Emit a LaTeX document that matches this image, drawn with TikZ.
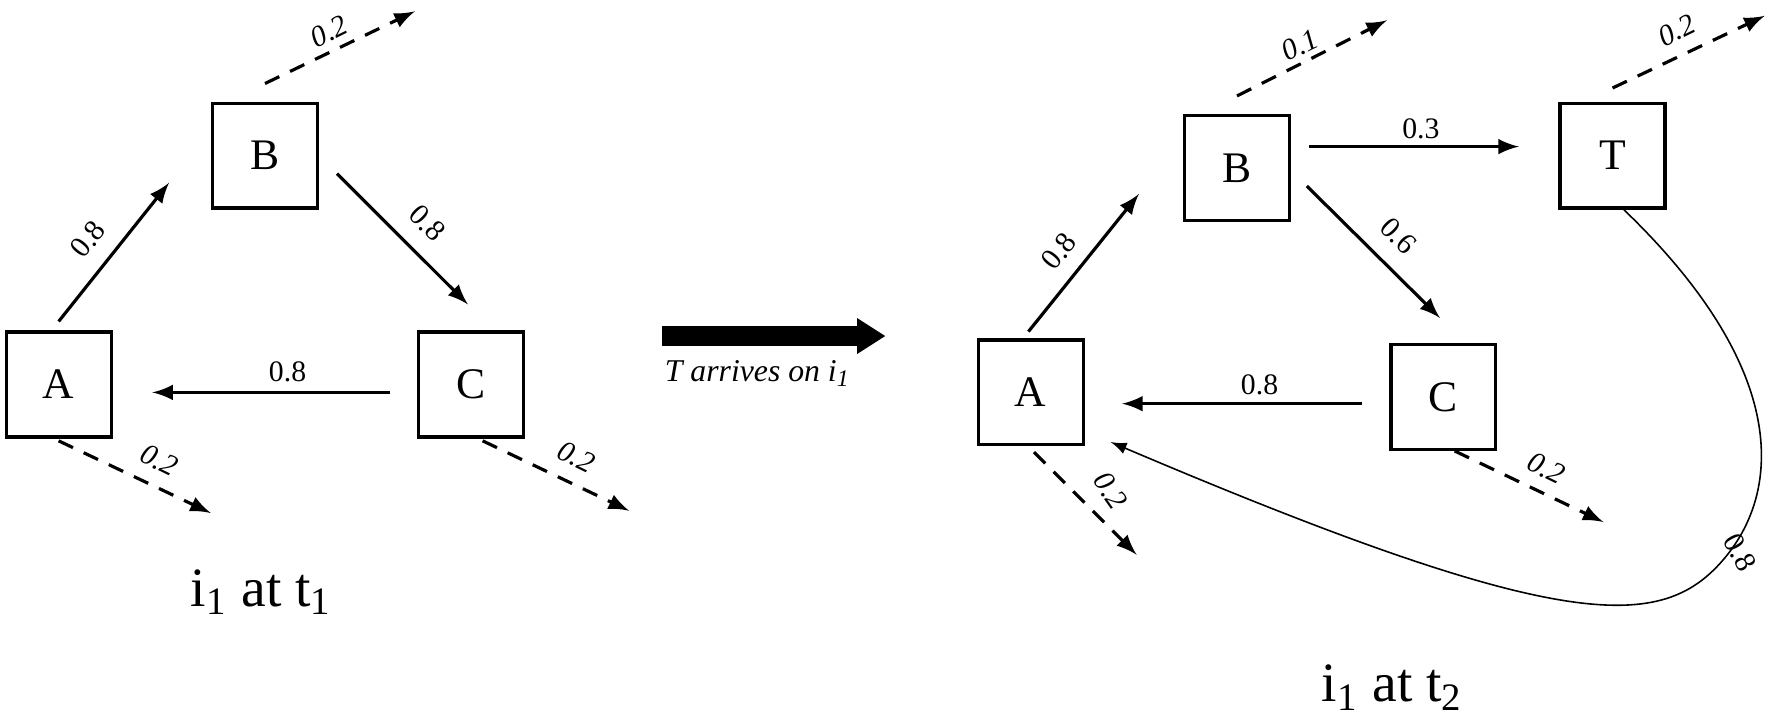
\documentclass[tikz,border=0pt]{standalone}
\usepackage{fontspec}
\setmainfont{Liberation Serif}
\usetikzlibrary{positioning}
\begin{document}
\begin{tikzpicture}[x=0.01cm, y=-0.01cm,
    box/.style={rectangle, draw, thick, minimum width=0.93cm, minimum height=0.93cm, font=\fontsize{11}{13}\selectfont},
    arrow/.style={->, >=latex, thick},
    leave/.style={->, >=latex, thick, dashed, dash pattern=on 4pt off 3pt},
    num/.style={font=\fontsize{7.5}{8}\selectfont, inner sep=1pt},
    inum/.style={num, font=\fontsize{7.5}{8}\selectfont\itshape},
    caption/.style={font=\fontsize{14}{16}\selectfont}
]
\useasboundingbox (0,0) rectangle (1567,637.6);

% Instant t1
\node[box] (A1) at (52,341) {A};
\node[box] (B1) at (235,138) {B};
\node[box] (C1) at (418,341) {C};
\coordinate (B1out) at (368,10);
\coordinate (A1out) at (187,455);
\coordinate (C1out) at (558,453);

\draw[arrow] (A1.north) ++(0,-8) coordinate (a1s) (a1s) -- (150,162) coordinate (a1e);
\node[num, rotate=51] at (78,212) {0.8};
\draw[arrow] (B1.east) ++(16,16) coordinate (b1s) (b1s) -- (415,270);
\node[num, rotate=-45] at (379,198) {0.8};
\draw[arrow] (C1.west) ++(-24,7) coordinate (c1s) (c1s) -- (135,348);
\node[num] at (255,330) {0.8};

\draw[leave] (B1.north) ++(0,-16) coordinate (b1t) (b1t) -- (B1out);
\node[inum, rotate=26] at (292,28) {0.2};
\draw[leave] (A1.south) ++(0,2) coordinate (a1b) (a1b) -- (A1out);
\node[inum, rotate=-26] at (141,408) {0.2};
\draw[leave] (C1.south) ++(10,2) coordinate (c1b) (c1b) -- (C1out);
\node[inum, rotate=-26] at (511,405) {0.2};

\node[caption] (cap1) at (232,525) {i\textsubscript{1} at t\textsubscript{1}};

% Transition
\coordinate (go) at (587,298);
\coordinate (stop) at (785,298);
\coordinate (neck) at (760,298);
\draw[line width=5pt] (go) -- (neck);
\fill (760,282) -- (stop) -- (760,314) -- cycle;
\node[font=\fontsize{8}{9}\selectfont\itshape] (lab) at (672,331) {T arrives on i\textsubscript{1}};

% Instant t2
\node[box] (A2) at (914,348) {A};
\node[box] (B2) at (1097,149) {B};
\node[box] (C2) at (1280,352) {C};
\node[box] (T2) at (1430,138) {T};
\coordinate (B2out) at (1230,18);
\coordinate (T2out) at (1565,14);
\coordinate (A2out) at (1008,492);
\coordinate (C2out) at (1422,463);

\draw[arrow] (A2.north) ++(-2,-6) coordinate (a2s) (a2s) -- (1010,172);
\node[num, rotate=51] at (939,223) {0.8};
\draw[arrow] (B2.east) ++(16,-19) coordinate (b2s) (b2s) -- (1347,130);
\node[num] at (1260,114) {0.3};
\draw[arrow] (B2.east) ++(14,16) coordinate (b2c) (b2c) -- (1277,282);
\node[num, rotate=-45] at (1240,209) {0.6};
\draw[arrow] (C2.west) ++(-24,6) coordinate (c2s) (c2s) -- (995,358);
\node[num] at (1117,341) {0.8};

\draw[leave] (B2.north) ++(0,-16) coordinate (b2t) (b2t) -- (B2out);
\node[inum, rotate=26] at (1153,40) {0.1};
\draw[leave] (T2.north) ++(0,-12) coordinate (t2t) (t2t) -- (T2out);
\node[inum, rotate=26] at (1487,27) {0.2};
\draw[leave] (A2.south) ++(3,5) coordinate (a2b) (a2b) -- (A2out);
\node[inum, rotate=-55] at (985,435) {0.2};
\draw[leave] (C2.south) ++(10,0) coordinate (c2b) (c2b) -- (C2out);
\node[inum, rotate=-26] at (1371,415) {0.2};

\draw[->, >=latex] (T2.south) ++(10,0) coordinate (t2b) (t2b)
    .. controls (1590,330) and (1580,440) .. (1525,500) coordinate (t2m)
    .. controls (1470,560) and (1380,560) .. (985,392);
\node[num, rotate=-62] at (1543,490) {0.8};

\node[caption] (cap2) at (1235,610) {i\textsubscript{1} at t\textsubscript{2}};
\end{tikzpicture}
\end{document}
